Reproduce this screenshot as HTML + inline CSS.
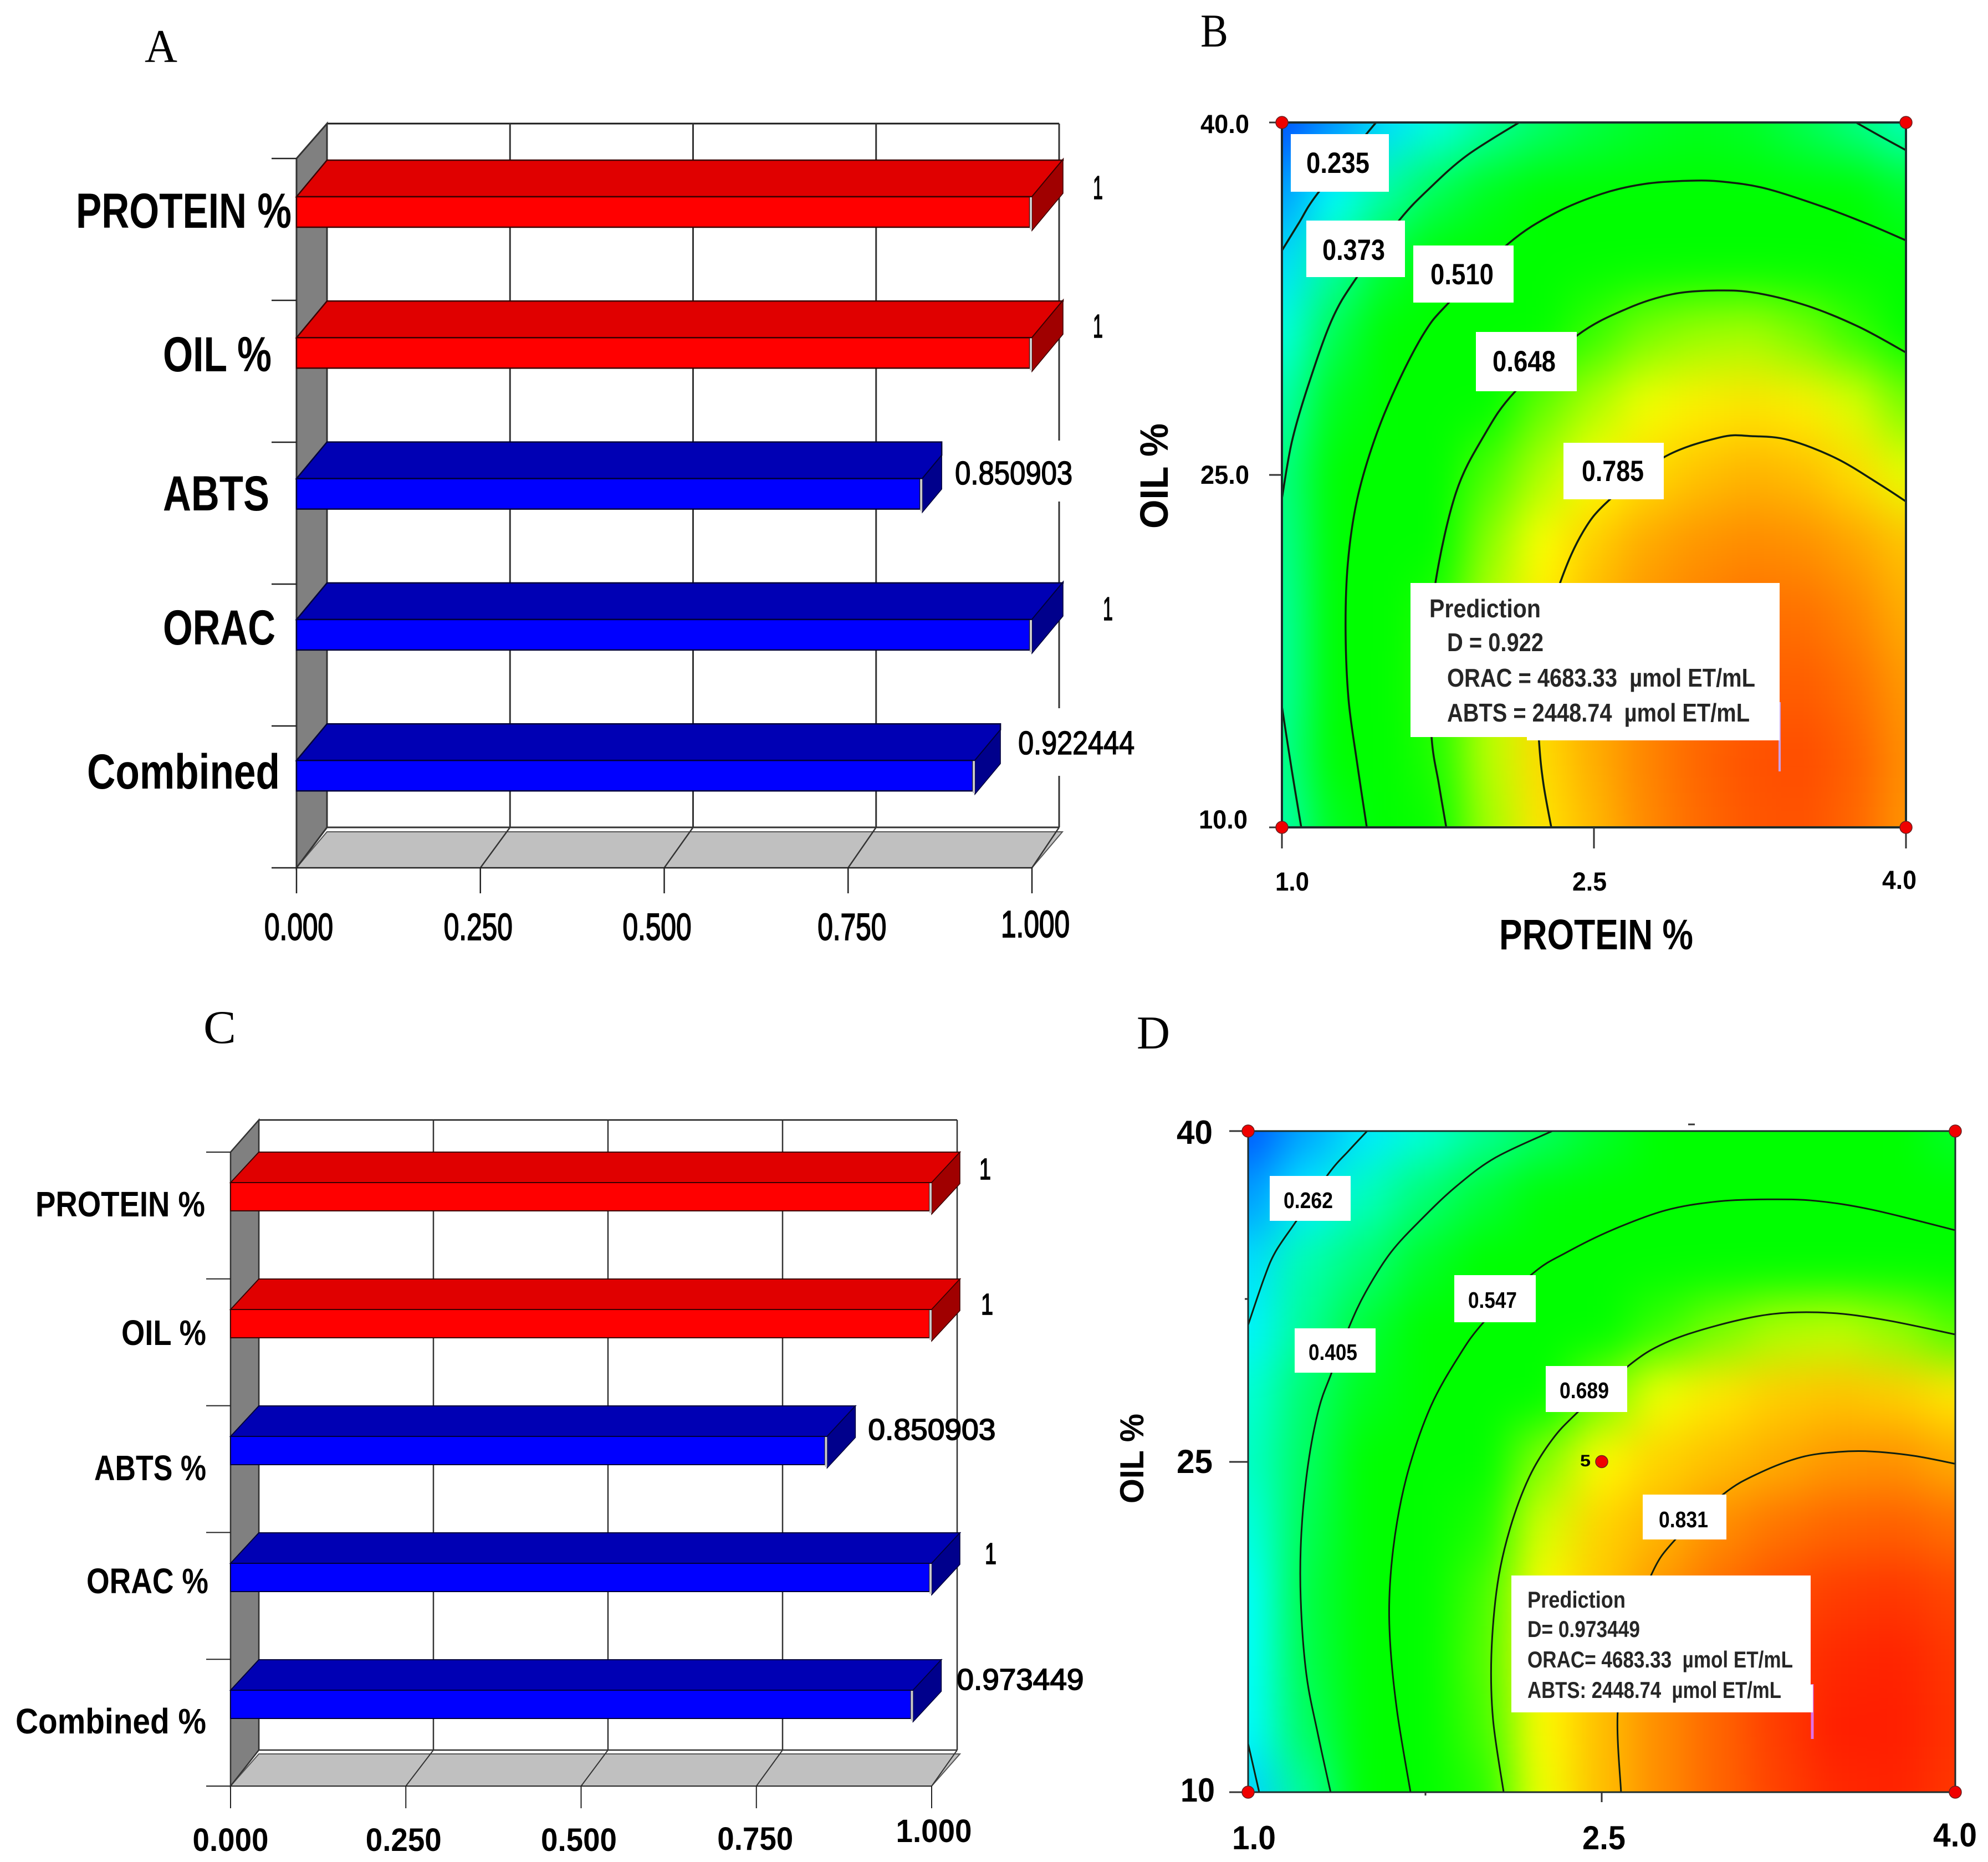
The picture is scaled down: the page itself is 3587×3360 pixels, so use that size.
<!DOCTYPE html>
<html lang="en">
<head>
<meta charset="utf-8">
<title>Desirability bar charts and contour plots</title>
<style>
html,body{margin:0;padding:0;background:#fff}
svg{display:block}
text{font-family:"Liberation Sans",sans-serif;fill:#000}
.serif{font-family:"Liberation Serif",serif}
.bold{font-weight:bold}
.pred{font-weight:bold;fill:#262626}
</style>
</head>
<body>
<svg id="figure" width="3587" height="3360" viewBox="0 0 3587 3360">
<defs>
  <clipPath id="clipB"><rect x="2313" y="221" width="1126" height="1272"/></clipPath>
  <clipPath id="clipD"><rect x="2252" y="2041" width="1276" height="1193"/></clipPath>
  <filter id="smoothB" filterUnits="userSpaceOnUse" x="1900" y="-200" width="1950" height="2100" color-interpolation-filters="sRGB"><feGaussianBlur stdDeviation="36 48"/></filter>
  <filter id="smoothD" filterUnits="userSpaceOnUse" x="1850" y="1650" width="2050" height="2000" color-interpolation-filters="sRGB"><feGaussianBlur stdDeviation="38 42"/></filter>
</defs>
<rect x="0" y="0" width="3587" height="3360" fill="#fff"/>

<text class="serif" x="261" y="112" font-size="85" textLength="59" lengthAdjust="spacingAndGlyphs">A</text>
<text class="serif" x="2166" y="84" font-size="85" textLength="50" lengthAdjust="spacingAndGlyphs">B</text>
<text class="serif" x="367" y="1882" font-size="85" textLength="59" lengthAdjust="spacingAndGlyphs">C</text>
<text class="serif" x="2051" y="1892" font-size="85" textLength="60" lengthAdjust="spacingAndGlyphs">D</text>

<g id="panelA"></g>
<g id="panelC"></g>

<!-- Panel B -->
<g>
  <g clip-path="url(#clipB)">
    <g id="heatB" filter="url(#smoothB)"></g>
    <g id="contoursB"></g>
  </g>
  <rect x="2313" y="221" width="1126" height="1272" fill="none" stroke="#1c2c2c" stroke-width="4"/>
  <g stroke="#333" stroke-width="3">
    <line x1="2290" y1="221" x2="2313" y2="221"/>
    <line x1="2290" y1="857" x2="2313" y2="857"/>
    <line x1="2290" y1="1493" x2="2313" y2="1493"/>
    <line x1="2313" y1="1493" x2="2313" y2="1531"/>
    <line x1="2876" y1="1493" x2="2876" y2="1531"/>
    <line x1="3439" y1="1493" x2="3439" y2="1531"/>
  </g>
  <text class="bold" x="2166" y="240" font-size="47" textLength="88" lengthAdjust="spacingAndGlyphs">40.0</text>
  <text class="bold" x="2166" y="873" font-size="47" textLength="88" lengthAdjust="spacingAndGlyphs">25.0</text>
  <text class="bold" x="2163" y="1495" font-size="47" textLength="88" lengthAdjust="spacingAndGlyphs">10.0</text>
  <text class="bold" x="2301" y="1607" font-size="47" textLength="61" lengthAdjust="spacingAndGlyphs">1.0</text>
  <text class="bold" x="2837" y="1607" font-size="47" textLength="62" lengthAdjust="spacingAndGlyphs">2.5</text>
  <text class="bold" x="3396" y="1604" font-size="47" textLength="62" lengthAdjust="spacingAndGlyphs">4.0</text>
  <text class="bold" x="2705" y="1713" font-size="77" textLength="350" lengthAdjust="spacingAndGlyphs">PROTEIN %</text>
  <text class="bold" transform="translate(2107,954) rotate(-90)" font-size="71" textLength="190" lengthAdjust="spacingAndGlyphs">OIL %</text>

  <g><rect x="2329" y="242" width="177" height="104" fill="#fff"/><text class="bold" x="2357" y="312" font-size="53" textLength="114" lengthAdjust="spacingAndGlyphs">0.235</text></g>
  <g><rect x="2357" y="398" width="178" height="102" fill="#fff"/><text class="bold" x="2386" y="469" font-size="53" textLength="113" lengthAdjust="spacingAndGlyphs">0.373</text></g>
  <g><rect x="2550" y="443" width="181" height="103" fill="#fff"/><text class="bold" x="2581" y="513" font-size="53" textLength="114" lengthAdjust="spacingAndGlyphs">0.510</text></g>
  <g><rect x="2663" y="599" width="182" height="107" fill="#fff"/><text class="bold" x="2693" y="670" font-size="53" textLength="114" lengthAdjust="spacingAndGlyphs">0.648</text></g>
  <g><rect x="2821" y="799" width="181" height="102" fill="#fff"/><text class="bold" x="2854" y="868" font-size="53" textLength="112" lengthAdjust="spacingAndGlyphs">0.785</text></g>

  <line x1="3211" y1="1267" x2="3211" y2="1392" stroke="#c9a0e8" stroke-width="4"/>
  <rect x="2755" y="1330" width="456" height="6" fill="#fff"/>
  <g>
    <rect x="2545" y="1052" width="666" height="278" fill="#fff"/>
    <text class="pred" x="2579" y="1114" font-size="46" textLength="201" lengthAdjust="spacingAndGlyphs">Prediction</text>
    <text class="pred" x="2611" y="1175" font-size="46" textLength="174" lengthAdjust="spacingAndGlyphs">D = 0.922</text>
    <text class="pred" x="2611" y="1239" font-size="46" textLength="556" lengthAdjust="spacingAndGlyphs">ORAC = 4683.33&#160; µmol ET/mL</text>
    <text class="pred" x="2611" y="1302" font-size="46" textLength="546" lengthAdjust="spacingAndGlyphs">ABTS = 2448.74&#160; µmol ET/mL</text>
  </g>
  <g id="pointsB"></g>
</g>

<!-- Panel D -->
<g>
  <g clip-path="url(#clipD)">
    <g id="heatD" filter="url(#smoothD)"></g>
    <g id="contoursD"></g>
  </g>
  <rect x="2252" y="2041" width="1276" height="1193" fill="none" stroke="#1c2c2c" stroke-width="3"/>
  <g stroke="#333" stroke-width="3">
    <line x1="2218" y1="2041" x2="2252" y2="2041"/>
    <line x1="2218" y1="2638" x2="2252" y2="2638"/>
    <line x1="2218" y1="3234" x2="2252" y2="3234"/>
    <line x1="2246" y1="2344" x2="2252" y2="2344"/>
    <line x1="2572" y1="3234" x2="2572" y2="3240"/>
    <line x1="2890" y1="3234" x2="2890" y2="3252"/>
    <line x1="3046" y1="2029" x2="3058" y2="2029"/>
  </g>
  <text class="bold" x="2123" y="2064" font-size="60" textLength="65" lengthAdjust="spacingAndGlyphs">40</text>
  <text class="bold" x="2123" y="2658" font-size="60" textLength="65" lengthAdjust="spacingAndGlyphs">25</text>
  <text class="bold" x="2130" y="3251" font-size="60" textLength="62" lengthAdjust="spacingAndGlyphs">10</text>
  <text class="bold" x="2223" y="3337" font-size="60" textLength="79" lengthAdjust="spacingAndGlyphs">1.0</text>
  <text class="bold" x="2855" y="3337" font-size="60" textLength="78" lengthAdjust="spacingAndGlyphs">2.5</text>
  <text class="bold" x="3488" y="3332" font-size="60" textLength="79" lengthAdjust="spacingAndGlyphs">4.0</text>
  <text class="bold" transform="translate(2063,2713) rotate(-90)" font-size="60" textLength="162" lengthAdjust="spacingAndGlyphs">OIL %</text>

  <g><rect x="2291" y="2122" width="146" height="81" fill="#fff"/><text class="bold" x="2316" y="2180" font-size="41" textLength="89" lengthAdjust="spacingAndGlyphs">0.262</text></g>
  <g><rect x="2336" y="2397" width="146" height="80" fill="#fff"/><text class="bold" x="2361" y="2454" font-size="41" textLength="88" lengthAdjust="spacingAndGlyphs">0.405</text></g>
  <g><rect x="2624" y="2301" width="147" height="85" fill="#fff"/><text class="bold" x="2649" y="2360" font-size="41" textLength="88" lengthAdjust="spacingAndGlyphs">0.547</text></g>
  <g><rect x="2789" y="2465" width="147" height="83" fill="#fff"/><text class="bold" x="2814" y="2523" font-size="41" textLength="89" lengthAdjust="spacingAndGlyphs">0.689</text></g>
  <g><rect x="2964" y="2697" width="151" height="81" fill="#fff"/><text class="bold" x="2993" y="2756" font-size="41" textLength="89" lengthAdjust="spacingAndGlyphs">0.831</text></g>

  <line x1="3270" y1="3039" x2="3270" y2="3138" stroke="#e070e8" stroke-width="5"/>
  <g>
    <rect x="2727" y="2843" width="540" height="247" fill="#fff"/>
    <rect x="3267" y="3040" width="4" height="50" fill="#fff"/>
    <text class="pred" x="2756" y="2901" font-size="42" textLength="177" lengthAdjust="spacingAndGlyphs">Prediction</text>
    <text class="pred" x="2756" y="2954" font-size="42" textLength="203" lengthAdjust="spacingAndGlyphs">D= 0.973449</text>
    <text class="pred" x="2756" y="3009" font-size="42" textLength="479" lengthAdjust="spacingAndGlyphs">ORAC= 4683.33&#160; µmol ET/mL</text>
    <text class="pred" x="2756" y="3064" font-size="42" textLength="458" lengthAdjust="spacingAndGlyphs">ABTS: 2448.74&#160; µmol ET/mL</text>
  </g>
  <g id="pointsD"></g>
  <text class="bold" x="2851" y="2646" font-size="30" textLength="19" lengthAdjust="spacingAndGlyphs">5</text>
</g>
</svg>

<script>
/* ---------- Bar chart data ---------- */
const categoriesA = ['PROTEIN %', 'OIL %', 'ABTS', 'ORAC', 'Combined'];
const valuesA = [1, 1, 0.850903, 1, 0.922444];
const seriesKindA = ['factor', 'factor', 'response', 'response', 'response'];
const categoriesC = ['PROTEIN %', 'OIL %', 'ABTS %', 'ORAC %', 'Combined %'];
const valuesC = [1, 1, 0.850903, 1, 0.973449];
const seriesKindC = ['factor', 'factor', 'response', 'response', 'response'];
const xTickValues = [0, 0.25, 0.5, 0.75, 1];
const xTickLabels = ['0.000', '0.250', '0.500', '0.750', '1.000'];

/* ---------- Contour plot data (protein %, oil %) ---------- */
const proteinAxis = [1, 1.25, 1.5, 1.75, 2, 2.25, 2.5, 2.75, 3, 3.25, 3.5, 3.75, 4];
const oilAxis = [40, 37, 34, 31, 28, 25, 22, 19, 16, 13, 10];
const heatB = [
 [.12,.18,.25,.30,.35,.39,.42,.44,.45,.44,.41,.373,.33],
 [.19,.28,.35,.41,.45,.48,.51,.525,.53,.525,.51,.48,.44],
 [.25,.35,.43,.48,.525,.565,.59,.61,.625,.625,.61,.58,.53],
 [.30,.41,.48,.54,.59,.625,.66,.69,.705,.71,.69,.66,.62],
 [.34,.45,.52,.585,.635,.68,.715,.745,.765,.775,.765,.735,.69],
 [.37,.47,.54,.61,.67,.715,.75,.785,.81,.825,.815,.785,.74],
 [.36,.49,.57,.635,.70,.75,.80,.835,.855,.865,.86,.84,.81],
 [.35,.49,.58,.65,.72,.77,.82,.855,.875,.89,.89,.87,.83],
 [.35,.49,.57,.655,.72,.785,.83,.865,.89,.905,.91,.89,.85],
 [.36,.48,.57,.65,.72,.785,.83,.87,.90,.92,.925,.905,.86],
 [.34,.45,.54,.64,.71,.775,.82,.865,.895,.915,.92,.90,.855]
];
const heatD = [
 [.13,.20,.26,.31,.36,.40,.44,.47,.49,.50,.49,.47,.44],
 [.19,.265,.33,.385,.43,.465,.495,.52,.535,.545,.54,.525,.49],
 [.25,.34,.385,.44,.49,.54,.57,.595,.615,.63,.63,.615,.58],
 [.27,.36,.43,.49,.55,.60,.635,.67,.695,.715,.72,.705,.68],
 [.31,.39,.45,.525,.59,.64,.695,.74,.77,.795,.805,.795,.77],
 [.32,.40,.47,.54,.62,.70,.75,.79,.81,.83,.85,.855,.83],
 [.30,.41,.49,.575,.66,.73,.79,.82,.86,.885,.90,.905,.89],
 [.28,.42,.51,.59,.675,.75,.80,.85,.89,.92,.94,.945,.93],
 [.28,.415,.515,.595,.68,.755,.81,.86,.90,.94,.96,.965,.945],
 [.275,.40,.51,.59,.675,.75,.81,.86,.90,.94,.97,.97,.95],
 [.24,.36,.47,.57,.665,.74,.81,.86,.90,.935,.96,.965,.945]
];
const contourB235 = [[1,34.55],[1.08,35.7],[1.17,36.96],[1.41,39.55],[1.453,40]];
const contourB373a = [[1,24],[1.048,26.42],[1.125,28.77],[1.24,31.6],[1.357,33.37],[1.565,35.85],[1.71,37.2],[1.89,38.6],[2.14,40]];
const contourB373b = [[1,15.14],[1.048,12.4],[1.093,10]];
const contourB373c = [[3.76,40],[3.88,39.4],[4,38.82]];
const contourB510 = [[1.408,10],[1.36,12.83],[1.32,15.47],[1.306,18.47],[1.317,21.25],[1.36,23.89],[1.442,26.42],[1.55,28.77],[1.685,31.06],[1.8,32.31],[2.087,34.83],[2.306,36.11],[2.537,36.96],[2.74,37.38],[2.958,37.52],[3.12,37.48],[3.326,37.19],[3.598,36.42],[3.827,35.64],[4,34.98]];
const contourB648 = [[1.79,10],[1.754,11.86],[1.72,13.77],[1.706,17.15],[1.74,20.52],[1.837,24.25],[1.97,26.65],[2.12,28.54],[2.42,30.94],[2.66,32.08],[2.876,32.69],[3.094,32.85],[3.283,32.74],[3.528,32.19],[3.774,31.3],[4,30.21]];
const contourB785 = [[2.295,10],[2.257,11.86],[2.236,13.66],[2.218,16.9],[2.337,20.4],[2.447,22.57],[2.572,23.92],[2.836,25.75],[3.107,26.6],[3.257,26.65],[3.435,26.49],[3.664,25.71],[3.87,24.62],[4,23.87]];
const contourD262a = [[1,31.2],[1.068,33.33],[1.115,34.5],[1.2,35.85],[1.343,38.09],[1.428,39.12],[1.505,40]];
const contourD262b = [[1,12.2],[1.047,10]];
const contourD405 = [[1.35,10],[1.296,12.64],[1.247,15.36],[1.223,18.8],[1.226,21.77],[1.254,24.84],[1.30,27.4],[1.353,29.0],[1.428,31.1],[1.499,32.7],[1.606,34.5],[1.74,36.05],[1.884,37.5],[2.05,38.8],[2.29,40]];
const contourD547 = [[1.689,10],[1.632,13.67],[1.602,16.89],[1.602,19.45],[1.632,22.27],[1.686,24.84],[1.776,27.53],[1.889,29.7],[1.997,31.3],[2.208,33.54],[2.352,34.5],[2.542,35.5],[2.77,36.4],[2.987,36.8],[3.203,36.9],[3.41,36.83],[3.647,36.43],[4,35.5]];
const contourD689 = [[2.084,10],[2.039,13.3],[2.032,16.24],[2.058,19.45],[2.112,22],[2.194,24.33],[2.29,26],[2.394,27.2],[2.615,29.36],[2.77,30.39],[2.987,31.17],[3.226,31.7],[3.466,31.75],[3.706,31.42],[4,30.77]];
const contourD831 = [[2.582,10],[2.568,13.67],[2.62,17],[2.712,19.9],[2.81,21.44],[3.017,23.53],[3.168,24.48],[3.346,25.2],[3.504,25.44],[3.647,25.46],[3.826,25.26],[4,24.9]];
const designPointsB = [[1,40],[4,40],[1,10],[4,10]];
const designPointsD = [[1,40],[4,40],[1,10],[4,10],[2.5,25]];

/* ---------- Layout and styling (not data) ---------- */
const layoutA = {
  x0: 535, width: 1327, backX: 590, backWidth: 1321, wallTop: 223, floorBack: 1493, floorTop: 1501, frontY: 1566,
  bandTop: 286, bandStep: 256, barFirstTop: 355, barStep: 254.3, barH: 55, dx: 55, dy: 66, tickLeft: 490, tickBottom: 1612, strokeW: 3,
  sideDepth: [56, 56, 35, 56, 46],
  catBoxes: [[137,389,411,89],[294,196,670,89],[294,192,921,89],[294,203,1163,89],[157,348,1423,89]],
  valueBoxes: [[110,18,359],[110,18,609],[59,212,874],[128,18,1119],[78,210,1361]],
  valueSize: 59, valueBold: false, valueStroke: 1.6,
  tickNudge: [4,-4,-13,7,6], tickBase: [1696,1696,1696,1696,1691], tickW: 124, tickSize: 68, tickBold: false, tickStroke: 2,
  gridGaps: [[795,905],[1278,1400]]
};
const layoutC = {
  x0: 416, width: 1265, backX: 467, backWidth: 1260, wallTop: 2021, floorBack: 3158, floorTop: 3165, frontY: 3223,
  bandTop: 2079, bandStep: 228.8, barFirstTop: 2134, barStep: 229, barH: 51, dx: 51, dy: 55, tickLeft: 372, tickBottom: 3263, strokeW: 2.5,
  sideDepth: [51, 51, 51, 51, 51],
  catBoxes: [[64,306,2195,64],[219,153,2427,64],[170,202,2671,64],[156,220,2875,64],[28,344,3128,64]],
  valueBoxes: [[86,21,2128],[89,22,2372],[74,230,2598],[96,21,2822],[79,229,3049]],
  valueSize: 54, valueBold: false, valueStroke: 1.8,
  tickNudge: [0,-4,-4,-2,4], tickBase: [3340,3340,3340,3338,3324], tickW: 137, tickSize: 58, tickBold: true, tickStroke: 0,
  gridGaps: []
};
const colorStopsB = [[.12,0,80,255],[.28,0,255,255],[.47,0,255,0],[.635,0,255,0],[.75,255,255,0],[1,255,0,0]];
const colorStopsD = [[.13,0,90,255],[.28,0,255,255],[.47,0,255,0],[.65,0,255,0],[.745,255,255,0],[1,255,0,0]];

const NS = document.getElementById('figure').namespaceURI;

function make(tag, parent, attrs) {
  const el = document.createElementNS(NS, tag);
  for (const key in attrs) el.setAttribute(key, attrs[key]);
  parent.appendChild(el);
  return el;
}
function fitText(parent, str, x, y, size, width, bold, strokeW) {
  const el = make('text', parent, {x: x, y: y, 'font-size': size, textLength: width, lengthAdjust: 'spacingAndGlyphs'});
  if (bold) el.setAttribute('font-weight', 'bold');
  if (strokeW) {
    el.setAttribute('stroke', '#000');
    el.setAttribute('stroke-width', strokeW);
  }
  el.textContent = str;
  return el;
}
function pts(list) { return list.map(p => p[0] + ',' + p[1]).join(' '); }

function drawBars(host, L, categories, values, kinds, prefix) {
  const x = v => L.x0 + v * L.width;
  const xBack = v => L.backX + v * L.backWidth;
  const yBand = i => L.bandTop + i * L.bandStep;
  const ink = '#1a1a1a';

  const wallBack = make('rect', host, {x: L.backX, y: L.wallTop, width: L.backWidth, height: L.floorBack - L.wallTop, fill: '#fff'});
  
  

  const topEdge = make('line', host, {x1: L.backX, y1: L.wallTop, x2: L.backX + L.backWidth, y2: L.wallTop, stroke: ink, 'stroke-width': L.strokeW});
  
  

  xTickValues.forEach(t => {
    const g = make('line', host, {x1: xBack(t), y1: L.wallTop, x2: xBack(t), y2: L.floorBack, stroke: '#333', 'stroke-width': L.strokeW});
    
    
  });
  L.gridGaps.forEach(gap => {
    const m = make('rect', host, {x: xBack(1) - 6, y: gap[0], width: 12, height: gap[1] - gap[0], fill: '#fff'});
    
    
  });

  const wall = make('polygon', host, {points: pts([[L.x0, yBand(0)], [L.backX, L.wallTop], [L.backX, L.floorBack], [L.x0, L.frontY]]), fill: '#808080', stroke: '#333', 'stroke-width': L.strokeW});
  
  

  const backLine = make('line', host, {x1: L.backX, y1: L.floorBack, x2: L.backX + L.backWidth, y2: L.floorBack, stroke: '#333', 'stroke-width': L.strokeW});
  
  

  const floor = make('polygon', host, {points: pts([[L.x0, L.frontY], [L.backX, L.floorTop], [x(1) + L.dx, L.floorTop], [x(1), L.frontY]]), fill: '#c0c0c0', stroke: '#555', 'stroke-width': 2});
  
  

  xTickValues.forEach((t, i) => {
    const diag = make('line', host, {x1: x(t), y1: L.frontY, x2: xBack(t), y2: L.floorBack, stroke: '#333', 'stroke-width': L.strokeW - 0.5});
    
    

    const tick = make('line', host, {x1: x(t), y1: L.frontY, x2: x(t), y2: L.tickBottom, stroke: '#222', 'stroke-width': L.strokeW - 0.5});
    
    

    const label = fitText(host, xTickLabels[i], x(t) + L.tickNudge[i] - L.tickW / 2, L.tickBase[i], L.tickSize, L.tickW, L.tickBold, L.tickStroke);
    
    
  });

  for (let i = 0; i <= categories.length; i++) {
    const yT = i === categories.length ? L.frontY : yBand(i);
    const tick = make('line', host, {x1: L.tickLeft, y1: yT, x2: i === categories.length ? x(1) : L.x0, y2: yT, stroke: '#222', 'stroke-width': L.strokeW - 0.5});
    
    
  }

  categories.forEach((cat, i) => {
    const red = kinds[i] === 'factor';
    const xe = x(values[i]);
    const top = L.barFirstTop + i * L.barStep;
    const depth = L.sideDepth[i];
    const outline = red ? '#3a0000' : '#00003a';

    const bar = make('g', host, {});
    
    

    const topFace = make('polygon', bar, {points: pts([[L.x0, top], [L.x0 + L.dx, top - L.dy], [xe + depth, top - L.dy], [xe + depth, top - L.dy * depth / L.dx], [xe, top]]), fill: red ? '#e00000' : '#0000b4', stroke: outline, 'stroke-width': L.strokeW - 0.5});
    
    

    const side = make('polygon', bar, {points: pts([[xe, top], [xe + depth, top - L.dy * depth / L.dx], [xe + depth, top + L.barH - L.dy * depth / L.dx + 6], [xe, top + L.barH + 6]]), fill: red ? '#a00000' : '#00008c', stroke: outline, 'stroke-width': 1.5});
    
    

    const front = make('rect', bar, {x: L.x0, y: top, width: xe - L.x0 - 4, height: L.barH, fill: red ? '#ff0000' : '#0000ff', stroke: outline, 'stroke-width': L.strokeW - 0.5});
    
    

    const sliver = make('rect', bar, {x: xe - 4, y: top + 1, width: 4, height: L.barH + 3, fill: '#c8c8c8'});
    
    

    const cb = L.catBoxes[i];
    const catLabel = fitText(host, cat, cb[0], cb[2], cb[3], cb[1], true, 0);
    
    

    const vb = L.valueBoxes[i];
    const valLabel = fitText(host, String(values[i]), xe + vb[0], vb[2], L.valueSize, vb[1], L.valueBold, L.valueStroke);
    
    
  });
}

function colorFor(stops, v) {
  if (v <= stops[0][0]) return 'rgb(' + stops[0].slice(1).join(',') + ')';
  for (let i = 1; i < stops.length; i++) {
    if (v <= stops[i][0]) {
      const a = stops[i - 1], b = stops[i], t = (v - a[0]) / (b[0] - a[0]);
      const c = [1, 2, 3].map(k => Math.round(a[k] + (b[k] - a[k]) * t));
      return 'rgb(' + c.join(',') + ')';
    }
  }
  return 'rgb(255,0,0)';
}

function drawHeat(host, grid, stops, sx, sy) {
  const margin = 260;
  oilAxis.forEach((oil, r) => {
    proteinAxis.forEach((protein, c) => {
      const left = c === 0 ? sx(protein) - margin : (sx(proteinAxis[c - 1]) + sx(protein)) / 2;
      const right = c === proteinAxis.length - 1 ? sx(protein) + margin : (sx(protein) + sx(proteinAxis[c + 1])) / 2;
      const top = r === 0 ? sy(oil) - margin : (sy(oilAxis[r - 1]) + sy(oil)) / 2;
      const bottom = r === oilAxis.length - 1 ? sy(oil) + margin : (sy(oil) + sy(oilAxis[r + 1])) / 2;
      const cell = make('rect', host, {x: left, y: top, width: right - left + 1, height: bottom - top + 1, fill: colorFor(stops, grid[r][c])});
      
      
    });
  });
}

function smoothPath(p) {
  let d = 'M' + p[0][0] + ' ' + p[0][1];
  for (let i = 0; i < p.length - 1; i++) {
    const a = p[i - 1] || p[i], b = p[i], c = p[i + 1], e = p[i + 2] || c;
    d += ' C' + (b[0] + (c[0] - a[0]) / 6) + ' ' + (b[1] + (c[1] - a[1]) / 6) + ' ' +
         (c[0] - (e[0] - b[0]) / 6) + ' ' + (c[1] - (e[1] - b[1]) / 6) + ' ' + c[0] + ' ' + c[1];
  }
  return d;
}

function drawContours(host, lines, sx, sy, width) {
  lines.forEach(line => {
    const path = make('path', host, {d: smoothPath(line.map(q => [sx(q[0]), sy(q[1])])), fill: 'none', stroke: '#102010', 'stroke-width': width});
    
    
  });
}

function drawPoints(host, points, sx, sy) {
  points.forEach(q => {
    const dot = make('circle', host, {cx: sx(q[0]), cy: sy(q[1]), r: 11, fill: '#f00000', stroke: '#6a2020', 'stroke-width': 1.5});
    
    
  });
}

const xB = v => 2313 + (v - 1) * (1126 / 3);
const yB = v => 1493 - (v - 10) * (1272 / 30);
const xD = v => 2252 + (v - 1) * (1276 / 3);
const yD = v => 3234 - (v - 10) * (1193 / 30);

drawBars(document.getElementById('panelA'), layoutA, categoriesA, valuesA, seriesKindA, 'panel-a');
drawBars(document.getElementById('panelC'), layoutC, categoriesC, valuesC, seriesKindC, 'panel-c');
drawHeat(document.getElementById('heatB'), heatB, colorStopsB, xB, yB);
drawHeat(document.getElementById('heatD'), heatD, colorStopsD, xD, yD);
drawContours(document.getElementById('contoursB'), [contourB235, contourB373a, contourB373b, contourB373c, contourB510, contourB648, contourB785], xB, yB, 3.5);
drawContours(document.getElementById('contoursD'), [contourD262a, contourD262b, contourD405, contourD547, contourD689, contourD831], xD, yD, 3);
drawPoints(document.getElementById('pointsB'), designPointsB, xB, yB);
drawPoints(document.getElementById('pointsD'), designPointsD, xD, yD);
</script>
</body>
</html>
